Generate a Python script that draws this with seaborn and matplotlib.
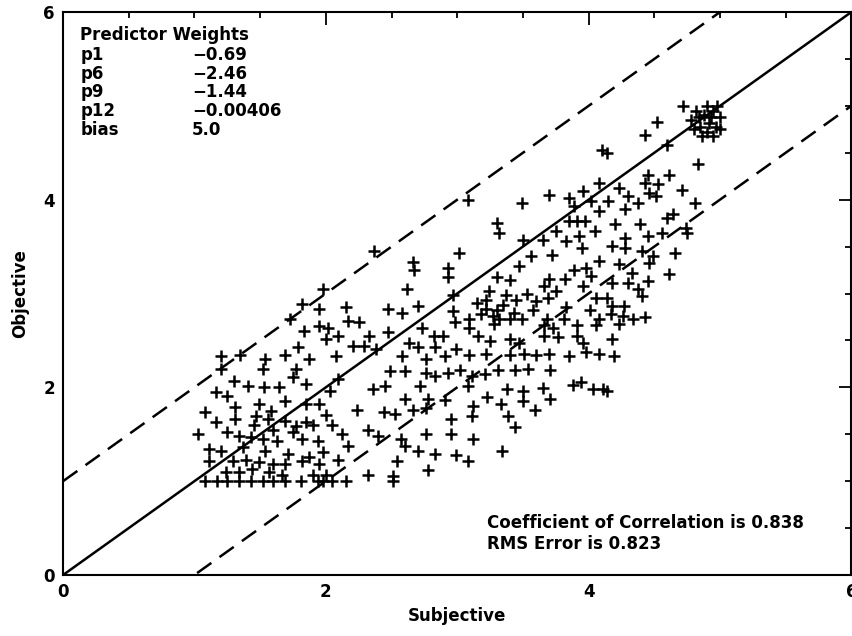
import numpy as np
import pandas as pd
import matplotlib
matplotlib.use("Agg")
import matplotlib.pyplot as plt
from matplotlib.ticker import MultipleLocator
import seaborn as sns

# ---------------- data ----------------
subj_top = [4.72, 4.52, 4.43, 4.60, 4.83, 4.45, 4.61, 4.43, 4.53, 4.46, 4.71, 4.51, 4.81, 4.14, 4.23, 4.30,
            4.38, 4.15, 4.28, 4.64, 4.60, 4.39, 4.20, 4.74,
            4.78, 4.82, 4.85, 4.88, 4.90, 4.92, 4.95, 4.97, 5.00, 4.80, 4.86, 4.95, 5.00, 4.90, 4.98, 4.84, 4.93]
obj_top = [5.00, 4.83, 4.69, 4.58, 4.38, 4.26, 4.26, 4.18, 4.17, 4.07, 4.10, 4.04, 3.97, 4.50, 4.12, 4.04,
           3.97, 3.99, 3.90, 3.85, 3.81, 3.74, 3.74, 3.70,
           4.85, 4.95, 4.78, 4.90, 4.72, 4.82, 4.95, 4.78, 4.88, 4.75, 4.68, 4.68, 4.75, 5.00, 5.00, 4.88, 4.88]

subj_r = [4.28, 4.45, 4.56, 4.75, 4.18, 4.28, 4.41, 4.49, 4.66, 4.46, 4.23, 4.33, 4.61, 4.18, 4.30, 4.45,
          4.38, 4.41, 4.14, 4.18, 4.27, 4.17, 4.26, 4.34, 4.43, 4.23, 4.18, 4.19, 4.14]
obj_r = [3.59, 3.61, 3.64, 3.65, 3.51, 3.49, 3.45, 3.40, 3.43, 3.33, 3.31, 3.22, 3.21, 3.11, 3.11, 3.13,
         3.05, 2.97, 2.95, 2.87, 2.87, 2.78, 2.76, 2.73, 2.75, 2.67, 2.51, 2.33, 1.96]

subj_lr = [3.11, 3.21, 3.31, 3.44, 3.54, 3.71, 3.88, 3.94, 4.03, 4.11, 3.08, 3.23, 3.12, 3.33, 3.38, 3.50,
           3.50, 3.65, 3.71, 3.59, 3.39, 3.44, 3.11, 3.12, 3.34, 3.08]
obj_lr = [2.12, 2.14, 2.19, 2.19, 2.20, 2.19, 2.03, 2.06, 1.98, 1.98, 2.01, 1.90, 1.80, 1.82, 1.98, 1.96,
          1.85, 1.99, 1.88, 1.76, 1.69, 1.58, 1.69, 1.45, 1.32, 1.21]

subj_lm = [2.49, 2.60, 2.76, 2.83, 2.93, 3.02, 2.09, 2.03, 2.36, 2.45, 2.72, 2.60, 2.78, 2.91, 2.24, 2.44,
           2.53, 2.66, 2.76, 2.95, 2.05, 2.12, 2.32, 2.40, 2.57, 2.76, 2.95, 2.17, 2.60, 2.70, 2.83, 2.99,
           2.09, 2.54, 2.78, 2.32, 2.51, 2.51, 2.15, 2.00, 1.98, 2.05]
obj_lm = [2.17, 2.17, 2.15, 2.12, 2.15, 2.19, 2.09, 1.96, 1.98, 2.01, 2.01, 1.88, 1.88, 1.87, 1.76, 1.74,
          1.72, 1.76, 1.78, 1.66, 1.60, 1.50, 1.55, 1.48, 1.45, 1.50, 1.50, 1.37, 1.37, 1.32, 1.29, 1.28,
          1.23, 1.21, 1.12, 1.07, 1.05, 1.00, 1.00, 1.07, 1.00, 1.00]

subj_ll = [1.20, 1.52, 1.77, 1.30, 1.41, 1.53, 1.64, 1.75, 1.85, 1.16, 1.25, 1.31, 1.49, 1.58, 1.69, 1.85,
           1.95, 1.08, 1.16, 1.31, 1.47, 1.56, 1.69, 1.77, 1.85, 1.03, 1.25, 1.34, 1.43, 1.52, 1.63, 1.82,
           1.94, 1.11, 1.20, 1.37, 1.54, 1.71, 1.87, 1.98, 1.11, 1.29, 1.39, 1.49, 1.60, 1.69, 1.82, 1.95,
           1.24, 1.34, 1.44, 1.57, 1.67, 1.90, 1.08, 1.17, 1.25, 1.34, 1.43, 1.52, 1.60, 1.69, 1.81, 1.94,
           1.60, 1.75, 1.90, 2.00, 1.45]
obj_ll = [2.20, 2.20, 2.20, 2.07, 2.01, 2.00, 2.00, 2.11, 2.04, 1.95, 1.91, 1.79, 1.82, 1.75, 1.85, 1.82,
          1.82, 1.74, 1.63, 1.66, 1.69, 1.66, 1.64, 1.59, 1.63, 1.50, 1.52, 1.48, 1.47, 1.45, 1.43, 1.45,
          1.43, 1.34, 1.32, 1.36, 1.32, 1.29, 1.26, 1.31, 1.21, 1.21, 1.23, 1.20, 1.18, 1.18, 1.21, 1.18,
          1.10, 1.10, 1.13, 1.10, 1.07, 1.07, 1.00, 1.00, 1.00, 1.00, 1.00, 1.00, 1.00, 1.00, 1.00, 1.00,
          1.55, 1.52, 1.60, 1.70, 1.60]

subj_ul = [1.98, 1.82, 1.95, 1.73, 1.83, 1.95, 1.79, 1.20, 1.35, 1.54, 1.69, 1.87]
obj_ul = [3.05, 2.89, 2.84, 2.73, 2.60, 2.65, 2.43, 2.33, 2.34, 2.30, 2.34, 2.30]

subj_um = [2.37, 2.66, 2.67, 3.01, 2.93, 2.93, 2.62, 2.97, 2.15, 2.47, 2.58, 2.70, 2.17, 2.25, 2.02, 2.47,
           2.09, 2.33, 2.73, 2.82, 2.89, 2.98, 2.97, 2.21, 2.29, 2.38, 2.63, 2.70, 2.83, 2.99, 2.08, 2.58,
           2.76, 2.91, 2.00]
obj_um = [3.45, 3.34, 3.25, 3.43, 3.27, 3.18, 3.05, 2.98, 2.86, 2.84, 2.79, 2.87, 2.71, 2.70, 2.63, 2.59,
          2.55, 2.55, 2.63, 2.55, 2.55, 2.70, 2.81, 2.44, 2.44, 2.41, 2.47, 2.43, 2.43, 2.41, 2.33, 2.33,
          2.30, 2.33, 2.52]

subj_c = [3.32, 3.50, 3.65, 3.75, 3.83, 3.93, 4.05, 3.95, 3.72, 3.56, 3.47, 3.89, 3.98, 4.08, 3.30, 3.40,
          3.70, 3.82, 4.02, 3.24, 3.37, 3.53, 3.66, 3.75, 3.96, 3.22, 3.45, 3.60, 3.69, 4.06, 3.22, 3.30,
          3.58, 3.83, 4.01, 3.32, 3.40, 3.49, 3.68, 3.81, 4.08, 3.09, 3.28, 3.66, 3.73, 3.91, 4.06, 3.09,
          3.66, 3.77, 3.91, 3.16, 3.25, 3.40, 3.47, 3.96, 3.09, 3.22, 3.40, 3.51, 3.60, 3.70, 3.85, 3.98,
          4.08, 3.15, 3.18, 3.27, 3.35, 3.43]
obj_c = [3.64, 3.57, 3.57, 3.67, 3.56, 3.61, 3.67, 3.48, 3.41, 3.40, 3.29, 3.25, 3.27, 3.35, 3.18, 3.14,
         3.16, 3.16, 3.19, 3.03, 2.98, 3.00, 3.08, 3.03, 3.08, 2.93, 2.93, 2.92, 2.95, 2.95, 2.84, 2.82,
         2.82, 2.86, 2.82, 2.73, 2.73, 2.73, 2.73, 2.73, 2.73, 2.73, 2.68, 2.66, 2.63, 2.66, 2.66, 2.63,
         2.55, 2.54, 2.55, 2.55, 2.49, 2.52, 2.47, 2.47, 2.34, 2.36, 2.34, 2.36, 2.34, 2.36, 2.33, 2.38,
         2.36, 2.90, 2.78, 2.76, 2.88, 2.79]

subj_uc = [4.10, 3.08, 3.49, 3.70, 3.85, 3.96, 4.02, 4.08, 3.89, 3.91, 3.97, 3.85, 3.30, 4.08]
obj_uc = [4.53, 4.00, 3.97, 4.05, 4.02, 4.09, 3.99, 4.18, 3.93, 3.77, 3.77, 3.77, 3.75, 3.88]

line_x = [0, 6]
line_y = [0, 6]
upper_y = [1, 7]
lower_y = [-1, 5]

weight_names = ["p1", "p6", "p9", "p12", "bias"]
weight_values = ["\u22120.69", "\u22122.46", "\u22121.44", "\u22120.00406", "5.0"]
correlation = 0.838
rms_error = 0.823

# ---------------- build frame ----------------
subj = subj_top + subj_r + subj_lr + subj_lm + subj_ll + subj_ul + subj_um + subj_c + subj_uc
obj = obj_top + obj_r + obj_lr + obj_lm + obj_ll + obj_ul + obj_um + obj_c + obj_uc
df = pd.DataFrame({"Subjective": subj, "Objective": obj})

# ---------------- plot ----------------
sns.set_theme(style="white")
plt.rcParams["font.family"] = ["DejaVu Sans"]
plt.rcParams["font.weight"] = "bold"
plt.rcParams["text.color"] = "black"
plt.rcParams["axes.labelcolor"] = "black"
plt.rcParams["xtick.color"] = "black"
plt.rcParams["ytick.color"] = "black"

fig = plt.figure(figsize=(8.53, 6.36), dpi=100)
ax = fig.add_axes([0.074, 0.096, 0.924, 0.885])

sns.scatterplot(data=df, x="Subjective", y="Objective", marker="+", color="black",
                s=85, linewidth=1.8, ax=ax, legend=False)

ax.plot(line_x, line_y, color="black", lw=1.8)
ax.plot(line_x, upper_y, color="black", lw=1.8, dashes=(7, 4))
ax.plot(line_x, lower_y, color="black", lw=1.8, dashes=(7, 4))

ax.set_xlim(0, 6)
ax.set_ylim(0, 6)
ax.xaxis.set_major_locator(MultipleLocator(2))
ax.yaxis.set_major_locator(MultipleLocator(2))
ax.xaxis.set_minor_locator(MultipleLocator(0.5))
ax.yaxis.set_minor_locator(MultipleLocator(0.5))
ax.tick_params(which="both", direction="in", top=True, right=True, color="black",
               labelcolor="black", width=1.3)
ax.tick_params(which="major", length=9, labelsize=12, pad=6)
ax.tick_params(which="minor", length=4.5)
for lab in ax.get_xticklabels() + ax.get_yticklabels():
    lab.set_fontweight("bold")
for sp in ax.spines.values():
    sp.set_color("black")
    sp.set_linewidth(1.5)

ax.set_xlabel("Subjective", fontsize=12, fontweight="bold", labelpad=4, color="black")
ax.set_ylabel("Objective", fontsize=12, fontweight="bold", labelpad=10, color="black")

# predictor weights block
ax.text(0.13, 5.85, "Predictor Weights", fontsize=12, fontweight="bold", va="top", ha="left",
        color="black")
for i, (n, v) in enumerate(zip(weight_names, weight_values)):
    yy = 5.64 - i * 0.2
    ax.text(0.13, yy, n, fontsize=12, fontweight="bold", va="top", ha="left", color="black")
    ax.text(0.98, yy, v, fontsize=12, fontweight="bold", va="top", ha="left", color="black")

ax.text(3.23, 0.55, f"Coefficient of Correlation is {correlation:.3f}", fontsize=12,
        fontweight="bold", va="center", ha="left", color="black")
ax.text(3.23, 0.33, f"RMS Error is {rms_error:.3f}", fontsize=12,
        fontweight="bold", va="center", ha="left", color="black")

fig.savefig("out.png", dpi=100)
